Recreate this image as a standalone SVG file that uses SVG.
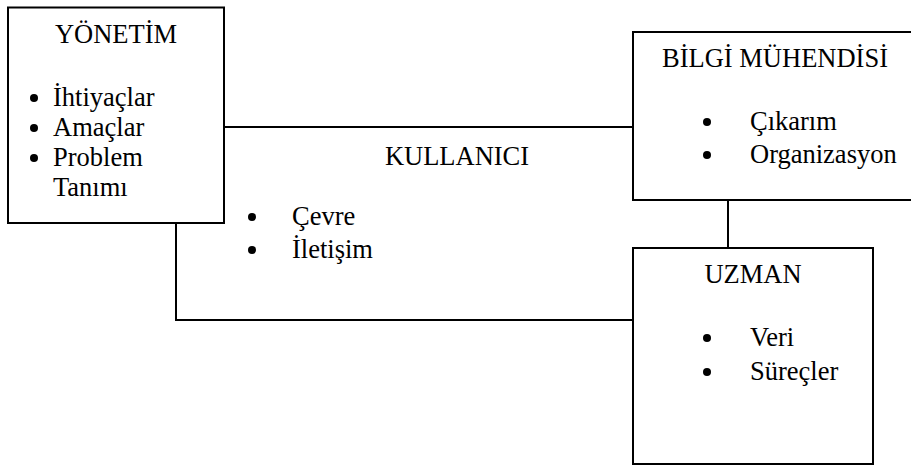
<svg xmlns="http://www.w3.org/2000/svg" width="911" height="465" viewBox="0 0 911 465">
<style>
.box{fill:#fff;stroke:#000;stroke-width:2}
.con{fill:none;stroke:#000;stroke-width:2}
text{font-family:"Liberation Serif","Times New Roman",serif;font-size:26.5px;fill:#000}
.mid{text-anchor:middle}
.dot{fill:#000}
</style>
<g id="connectors">
<line class="con" x1="224" y1="127" x2="633" y2="127"/>
<polyline class="con" points="176,223 176,320 633,320"/>
<line class="con" x1="728" y1="200" x2="728" y2="248"/>
</g>
<g id="yonetim">
<rect class="box" x="8" y="7.5" width="216" height="215.5"/>
<text class="mid" x="116" y="43">YÖNETİM</text>
<circle class="dot" cx="34" cy="98" r="4"/>
<circle class="dot" cx="34" cy="128" r="4"/>
<circle class="dot" cx="34" cy="158" r="4"/>
<text x="53" y="106">İhtiyaçlar</text>
<text x="53" y="136">Amaçlar</text>
<text x="53" y="166">Problem</text>
<text x="53" y="196">Tanımı</text>
</g>
<g id="kullanici">
<text class="mid" x="457" y="165">KULLANICI</text>
<circle class="dot" cx="252" cy="217" r="4"/>
<circle class="dot" cx="252" cy="250" r="4"/>
<text x="292" y="225">Çevre</text>
<text x="292" y="258">İletişim</text>
</g>
<g id="bilgi">
<rect class="box" x="633" y="32" width="285" height="168"/>
<text class="mid" x="775" y="67">BİLGİ MÜHENDİSİ</text>
<circle class="dot" cx="707" cy="122" r="4"/>
<circle class="dot" cx="707" cy="155" r="4"/>
<text x="750" y="130">Çıkarım</text>
<text x="750" y="163">Organizasyon</text>
</g>
<g id="uzman">
<rect class="box" x="633" y="248" width="240" height="216"/>
<text class="mid" x="753" y="283">UZMAN</text>
<circle class="dot" cx="707" cy="338" r="4"/>
<circle class="dot" cx="707" cy="372" r="4"/>
<text x="750" y="346">Veri</text>
<text x="750" y="380">Süreçler</text>
</g>
</svg>
